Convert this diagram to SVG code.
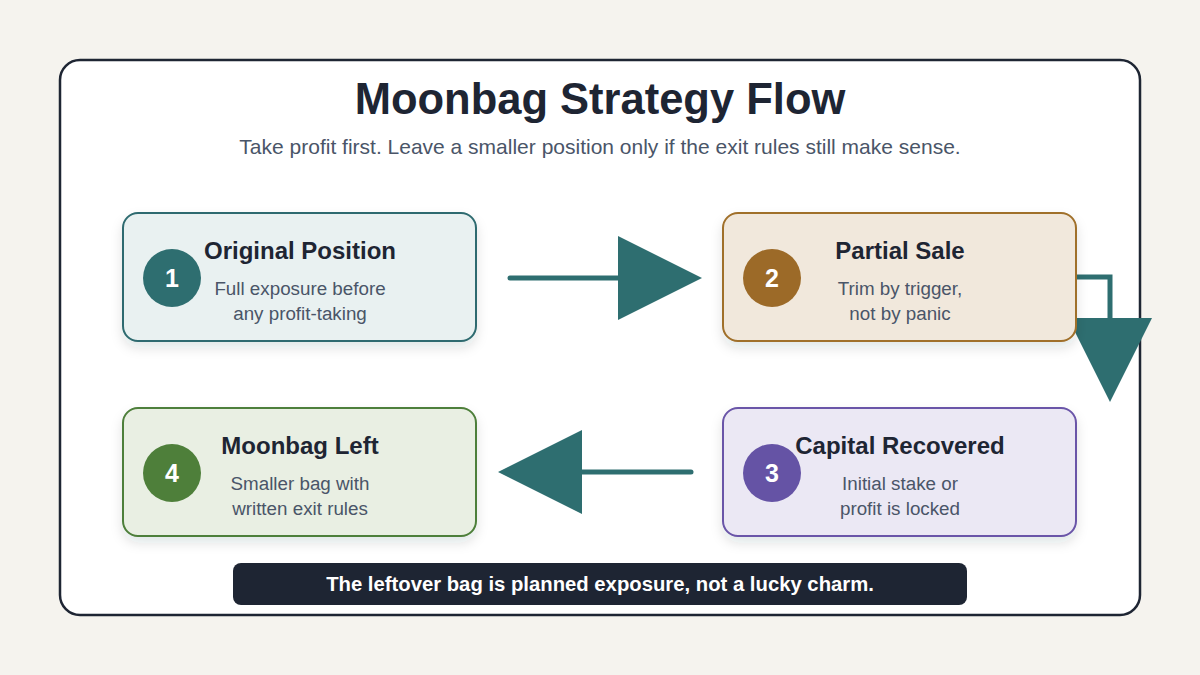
<svg xmlns="http://www.w3.org/2000/svg" width="1200" height="675" viewBox="0 0 1200 675">
<defs>
<style>
text{font-family:"Liberation Sans",Arial,sans-serif}
.ttl{font-size:43.5px;font-weight:bold;fill:#1e2533;text-anchor:middle}
.sub{font-size:21px;fill:#4a5568;text-anchor:middle}
.nt{font-size:24px;font-weight:bold;fill:#1e2533;text-anchor:middle}
.nd{font-size:18.8px;fill:#4a5568;text-anchor:middle}
.num{font-size:25px;font-weight:bold;fill:#ffffff;text-anchor:middle}
.box{stroke-width:2;filter:url(#sh)}
.conn{stroke:#2e6e70;stroke-width:5;fill:none;stroke-linecap:round}
.ban{font-size:20.3px;font-weight:bold;fill:#ffffff;text-anchor:middle}
</style>
<filter id="sh" x="-10%" y="-20%" width="120%" height="150%">
<feDropShadow dx="0" dy="6" stdDeviation="6" flood-color="#1e2533" flood-opacity="0.12"/>
</filter>
<marker id="ah" viewBox="0 0 10 10" refX="0" refY="5" markerWidth="84" markerHeight="84" markerUnits="userSpaceOnUse" orient="auto">
<path d="M0,0 L10,5 L0,10 Z" fill="#2e6e70"/>
</marker>
</defs>
<rect width="1200" height="675" fill="#f5f3ee"/>
<rect x="60" y="60" width="1080" height="555" rx="20" fill="#ffffff" stroke="#1e2533" stroke-width="2.5"/>
<text class="ttl" x="600" y="114">Moonbag Strategy Flow</text>
<text class="sub" x="600" y="154">Take profit first. Leave a smaller position only if the exit rules still make sense.</text>

<g id="connectors">
<path class="conn" d="M510,278 L618,278" marker-end="url(#ah)"/>
<path class="conn" d="M1075,277 L1110,277 L1110,318" stroke-linecap="butt" marker-end="url(#ah)"/>
<path class="conn" d="M691,472 L582,472" marker-end="url(#ah)"/>
</g>

<g id="node1">
<rect class="box" x="123" y="213" width="353" height="128" rx="15" fill="#e9f1f1" stroke="#2e6b6f"/>
<circle cx="172" cy="278" r="29" fill="#2e6e70"/>
<text class="num" x="172" y="287">1</text>
<text class="nt" x="300" y="259">Original Position</text>
<text class="nd" x="300" y="295">Full exposure before</text>
<text class="nd" x="300" y="320">any profit-taking</text>
</g>

<g id="node2">
<rect class="box" x="723" y="213" width="353" height="128" rx="15" fill="#f1e8dc" stroke="#a06f2a"/>
<circle cx="772" cy="278" r="29" fill="#9c6a28"/>
<text class="num" x="772" y="287">2</text>
<text class="nt" x="900" y="259">Partial Sale</text>
<text class="nd" x="900" y="295">Trim by trigger,</text>
<text class="nd" x="900" y="320">not by panic</text>
</g>

<g id="node3">
<rect class="box" x="723" y="408" width="353" height="128" rx="15" fill="#ebe8f4" stroke="#6a55a8"/>
<circle cx="772" cy="473" r="29" fill="#6553a5"/>
<text class="num" x="772" y="482">3</text>
<text class="nt" x="900" y="454">Capital Recovered</text>
<text class="nd" x="900" y="490">Initial stake or</text>
<text class="nd" x="900" y="515">profit is locked</text>
</g>

<g id="node4">
<rect class="box" x="123" y="408" width="353" height="128" rx="15" fill="#e9efe3" stroke="#4e7f3a"/>
<circle cx="172" cy="473" r="29" fill="#4e7f3a"/>
<text class="num" x="172" y="482">4</text>
<text class="nt" x="300" y="454">Moonbag Left</text>
<text class="nd" x="300" y="490">Smaller bag with</text>
<text class="nd" x="300" y="515">written exit rules</text>
</g>

<g id="banner">
<rect x="233" y="563" width="734" height="42" rx="8" fill="#1e2533"/>
<text class="ban" x="600" y="591">The leftover bag is planned exposure, not a lucky charm.</text>
</g>
</svg>
